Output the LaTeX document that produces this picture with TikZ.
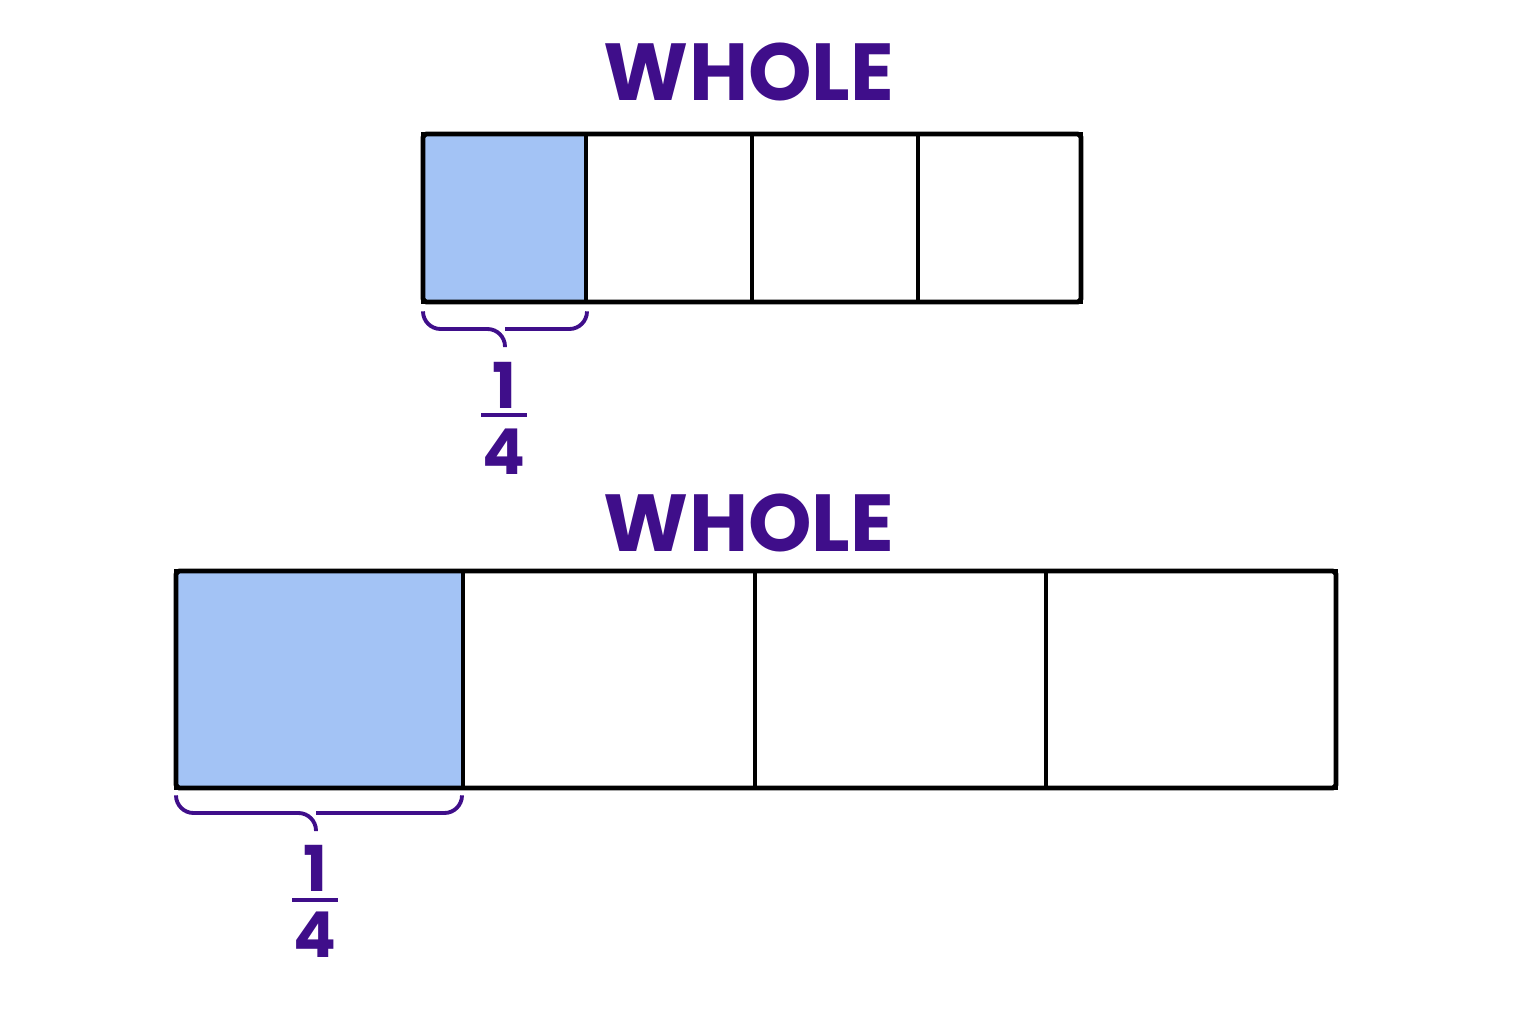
\documentclass[tikz,border=0pt]{standalone}
\usepackage{fontspec}
\setmainfont{Poppins}
\usetikzlibrary{positioning}
\definecolor{ink}{HTML}{3F0E8A}
\definecolor{part}{HTML}{A3C3F5}
\tikzset{
  cellbox/.style={draw=black, line width=1.1pt},
  title/.style={text=ink, font=\fontsize{23}{26}\selectfont\bfseries, inner sep=0pt},
  digit/.style={text=ink, font=\fontsize{18}{20}\selectfont\bfseries, inner sep=0pt},
  bracket/.style={draw=ink, line width=1.1pt, rounded corners=5pt}
}
\begin{document}
\begin{tikzpicture}[x=0.01cm, y=-0.01cm]
    \useasboundingbox (0,0) rectangle (1536,1024);
    % top bar
    \fill[part] (423,134) rectangle (586,302);
    \foreach \a/\b in {423/586, 586/752, 752/918, 918/1081}
      \draw[cellbox] (\a,134) rectangle (\b,302);
    \draw[black, line width=1.4pt, rounded corners=1pt] (423,134) rectangle (1081,302);
    \node[title] (wholeA) at (749,72) {WHOLE};
    \coordinate (bA1) at (423,312);
    \coordinate (bA2) at (587,312);
    \coordinate (tipA) at (505,347);
    \draw[bracket] (bA1) |- (505,329) -- (tipA);
    \draw[bracket] (bA2) |- (505,329);
    \node[digit] (numA) at (504,385) {1};
    \node[digit] (denA) at (504,452) {4};
    \draw[ink, line width=1.4pt] (481,415) -- (527,415);

    % bottom bar
    \fill[part] (176,571) rectangle (463,788);
    \foreach \a/\b in {176/463, 463/755, 755/1046, 1046/1336}
      \draw[cellbox] (\a,571) rectangle (\b,788);
    \draw[black, line width=1.4pt, rounded corners=1pt] (176,571) rectangle (1336,788);
    \node[title] (wholeB) at (749,523) {WHOLE};
    \coordinate (bB1) at (176,796);
    \coordinate (bB2) at (462,796);
    \coordinate (tipB) at (316,831);
    \draw[bracket] (bB1) |- (316,813) -- (tipB);
    \draw[bracket] (bB2) |- (316,813);
    \node[digit] (numB) at (315,868) {1};
    \node[digit] (denB) at (315,935) {4};
    \draw[ink, line width=1.4pt] (292,900) -- (338,900);
\end{tikzpicture}
\end{document}
